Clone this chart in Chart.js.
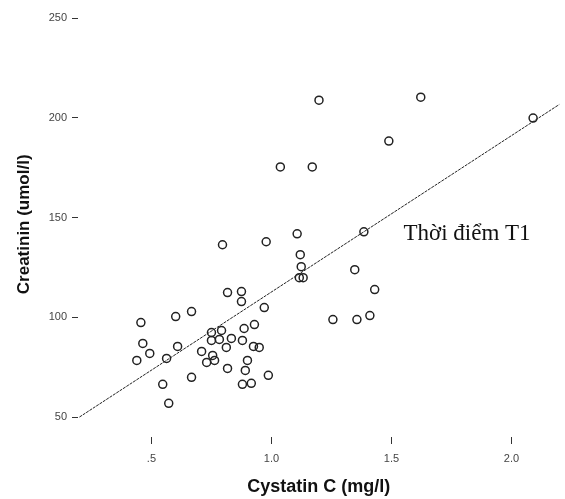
<!DOCTYPE html>
<html>
<head>
<meta charset="utf-8">
<script src="https://cdn.jsdelivr.net/npm/chart.js@4/dist/chart.umd.min.js"></script>
<style>
  html, body { margin: 0; padding: 0; background: #fff; }
</style>
</head>
<body>
<canvas id="cysChart" width="565" height="499"></canvas>
<script>
// Cystatin C (mg/l) vs Creatinin (umol/l), one pair per patient
const cystatin = [
  1.622, 1.198, 2.090, 1.489, 1.037, 1.170, 0.796, 0.978, 1.107, 1.385,
  1.120, 1.124, 1.116, 1.132, 1.347, 1.430, 1.256, 1.356, 1.410,
  0.456, 0.601, 0.667, 0.464, 0.493, 0.439, 0.609, 0.563, 0.547, 0.572, 0.667,
  0.817, 0.875, 0.875, 0.970, 0.750, 0.792, 0.750, 0.783, 0.833,
  0.709, 0.812, 0.755, 0.730, 0.763,
  0.886, 0.929, 0.879, 0.925, 0.949, 0.900, 0.817, 0.891, 0.987, 0.879, 0.916
];
const creatinin = [
  210.4, 208.9, 199.9, 188.4, 175.4, 175.4, 136.4, 137.9, 141.9, 142.9,
  131.4, 125.4, 119.9, 119.9, 123.9, 113.9, 98.9, 98.9, 100.9,
  97.4, 100.4, 102.9, 86.9, 81.9, 78.4, 85.4, 79.4, 66.4, 56.9, 69.9,
  112.4, 112.9, 107.9, 104.9, 92.4, 93.4, 88.4, 88.9, 89.4,
  82.9, 84.9, 80.9, 77.4, 78.4,
  94.4, 96.4, 88.4, 85.4, 84.9, 78.4, 74.4, 73.4, 70.9, 66.4, 66.9
];

// regression line end points
const fitX = [0.2, 2.2];
const fitY = [50, 206.8];

const xTicks = [0.5, 1.0, 1.5, 2.0];
const xTickLabels = ['.5', '1.0', '1.5', '2.0'];
const yTicks = [50, 100, 150, 200, 250];

const noteText = 'Thời điểm T1';
const notePos = [1.55, 142];

const points = cystatin.map((x, i) => ({ x: x, y: creatinin[i] }));
const fitLine = fitX.map((x, i) => ({ x: x, y: fitY[i] }));

const notePlugin = {
  id: 'note',
  afterDatasetsDraw(chart) {
    const { ctx, scales } = chart;
    ctx.save();
    ctx.font = '23px "Liberation Serif", "DejaVu Serif", serif';
    ctx.fillStyle = '#111';
    ctx.textBaseline = 'middle';
    ctx.fillText(noteText, scales.x.getPixelForValue(notePos[0]), scales.y.getPixelForValue(notePos[1]));
    ctx.restore();
  }
};

const ctx = document.getElementById('cysChart').getContext('2d');
new Chart(ctx, {
  type: 'scatter',
  data: {
    datasets: [{
      label: 'Creatinin',
      data: points,
      pointStyle: 'circle',
      pointRadius: 4,
      pointBorderWidth: 1.5,
      pointBorderColor: '#222',
      pointBackgroundColor: 'rgba(0,0,0,0)'
    }, {
      label: 'Fit',
      data: fitLine,
      showLine: true,
      pointRadius: 0,
      borderColor: '#222',
      borderWidth: 1,
      borderDash: [3, 1]
    }]
  },
  options: {
    responsive: false,
    animation: false,
    layout: { padding: { left: 0, right: 4, top: 10, bottom: 0 } },
    plugins: {
      legend: { display: false },
      tooltip: { enabled: false }
    },
    scales: {
      x: {
        type: 'linear',
        min: 0.194,
        max: 2.2,
        afterBuildTicks: s => { s.ticks = xTicks.map(v => ({ value: v })); },
        afterFit: s => { s.height = 62; },
        border: { display: false },
        grid: { drawOnChartArea: false, drawTicks: true, tickLength: 7, color: '#333' },
        ticks: {
          padding: 8,
          color: '#444',
          font: { family: 'Liberation Sans, Arial, sans-serif', size: 11 },
          callback: v => xTickLabels[xTicks.indexOf(v)]
        },
        title: {
          display: true,
          text: 'Cystatin C (mg/l)',
          color: '#111',
          font: { family: 'Liberation Sans, Arial, sans-serif', size: 18, weight: 'bold' },
          padding: { top: 0, bottom: 1 }
        }
      },
      y: {
        min: 40,
        max: 253.3,
        afterBuildTicks: s => { s.ticks = yTicks.map(v => ({ value: v })); },
        afterFit: s => { s.width = 78; },
        border: { display: false },
        grid: { drawOnChartArea: false, drawTicks: true, tickLength: 6, color: '#333' },
        ticks: {
          padding: 5,
          color: '#444',
          font: { family: 'Liberation Sans, Arial, sans-serif', size: 11 }
        },
        title: {
          display: true,
          text: 'Creatinin (umol/l)',
          color: '#111',
          font: { family: 'Liberation Sans, Arial, sans-serif', size: 17, weight: 'bold' },
          padding: { top: 14, bottom: 0 }
        }
      }
    }
  },
  plugins: [notePlugin]
});
</script>
</body>
</html>
